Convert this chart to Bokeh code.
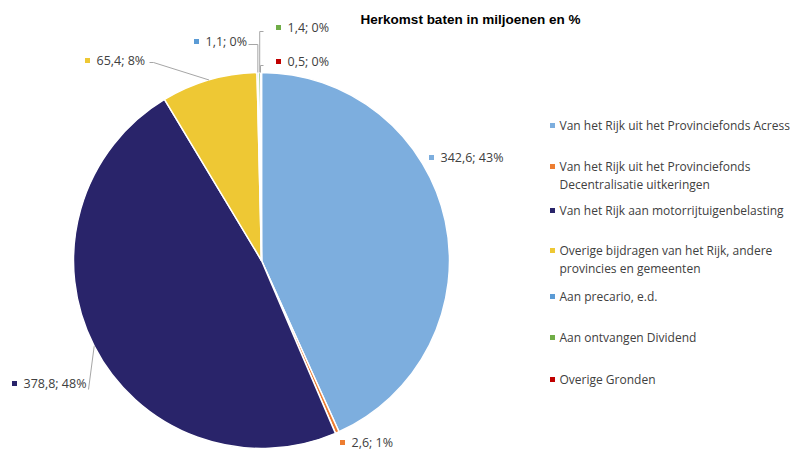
import math
from bokeh.plotting import figure
from bokeh.models import ColumnDataSource, Range1d
from bokeh.core.properties import value
from bokeh.embed import file_html
from bokeh.resources import INLINE

# ---- data ----
title = "Herkomst baten in miljoenen en %"
categories = [
    "Van het Rijk uit het Provinciefonds Acress",
    "Van het Rijk uit het Provinciefonds\nDecentralisatie uitkeringen",
    "Van het Rijk aan motorrijtuigenbelasting",
    "Overige bijdragen van het Rijk, andere\nprovincies en gemeenten",
    "Aan precario, e.d.",
    "Aan ontvangen Dividend",
    "Overige Gronden",
]
values = [342.6, 2.6, 378.8, 65.4, 1.1, 1.4, 0.5]
percents = [43, 1, 48, 8, 0, 0, 0]
colors = ["#7DAEDE", "#ED7D31", "#29246A", "#EEC834", "#5B9BD5", "#70AD47", "#C00000"]

# ---- layout (image pixel coordinates) ----
W, H = 792, 450
def X(ix):
    return ix
def Y(iy):
    return H - iy

CX, CY, R = 261, 260, 188
label_pos = [(440, 157), (351, 442), (23, 383), (96, 60), (205, 41), (287, 27), (287, 61)]
legend_y = [125, 166, 210, 250, 296, 337, 379]
legend_x = 559
FONT = "Open Sans"
TXT = "#404040"
LEAD = "#A6A6A6"

p = figure(width=W, height=H, x_range=Range1d(0, W), y_range=Range1d(0, H),
           output_backend="svg", toolbar_location=None,
           x_axis_type=None, y_axis_type=None, min_border=0)
p.outline_line_color = None
p.background_fill_color = "white"
p.border_fill_color = "white"

total = sum(values)
starts, ends, mids = [], [], []
cum = 0.0
for v in values:
    a0 = math.pi / 2 - 2 * math.pi * cum / total
    cum += v
    a1 = math.pi / 2 - 2 * math.pi * cum / total
    starts.append(a0)
    ends.append(a1)
    mids.append((a0 + a1) / 2)

src = ColumnDataSource(dict(start=starts, end=ends, color=colors))
p.wedge(x=X(CX), y=Y(CY), radius=R, start_angle="start", end_angle="end",
        direction="clock", fill_color="color", line_color="white", line_width=1.5,
        source=src)

def edge(i):
    a = mids[i]
    return (X(CX) + R * math.cos(a), Y(CY) + R * math.sin(a))

# leader lines
ex, ey = edge(2)
p.line([X(88), ex], [Y(389), ey], line_color=LEAD, line_width=1)
ex, ey = edge(3)
p.line([X(149), X(153), ex], [Y(62), Y(62), ey], line_color=LEAD, line_width=1)
ex, ey = edge(4)
p.line([X(248), ex, ex], [Y(44), Y(44), ey], line_color=LEAD, line_width=1)
ex, ey = edge(5)
p.line([X(263), ex, ex], [Y(31), Y(31), ey], line_color=LEAD, line_width=1)
ex, ey = edge(6)
p.line([X(263), X(260), X(260)], [Y(65), Y(65), ey], line_color=LEAD, line_width=1)

# data labels
def fmt(v, pc):
    return ("%.1f" % v).replace(".", ",") + "; " + "%d%%" % pc

for i, (v, pc) in enumerate(zip(values, percents)):
    lx, ly = label_pos[i]
    p.scatter([X(lx - 9)], [Y(ly)], marker="square", size=5, fill_color=colors[i], line_color=None)
    p.text([X(lx)], [Y(ly)], text=[fmt(v, pc)], text_font=value(FONT), text_font_size="12.5px",
           text_color=TXT, text_baseline="middle", text_align="left")

# legend
for i, cat in enumerate(categories):
    y0 = legend_y[i]
    p.scatter([X(legend_x - 7)], [Y(y0)], marker="square", size=5, fill_color=colors[i], line_color=None)
    for j, line in enumerate(cat.split("\n")):
        p.text([X(legend_x)], [Y(y0 + 18 * j)], text=[line], text_font=value(FONT),
               text_font_size="12px", text_color=TXT, text_baseline="middle", text_align="left")

# title
p.text([X(470)], [Y(19)], text=[title], text_font=value("Liberation Sans"), text_font_size="13.5px",
       text_font_style="bold", text_color="#000000", text_baseline="middle", text_align="center")

open("out.html", "w").write(file_html(p, INLINE))
